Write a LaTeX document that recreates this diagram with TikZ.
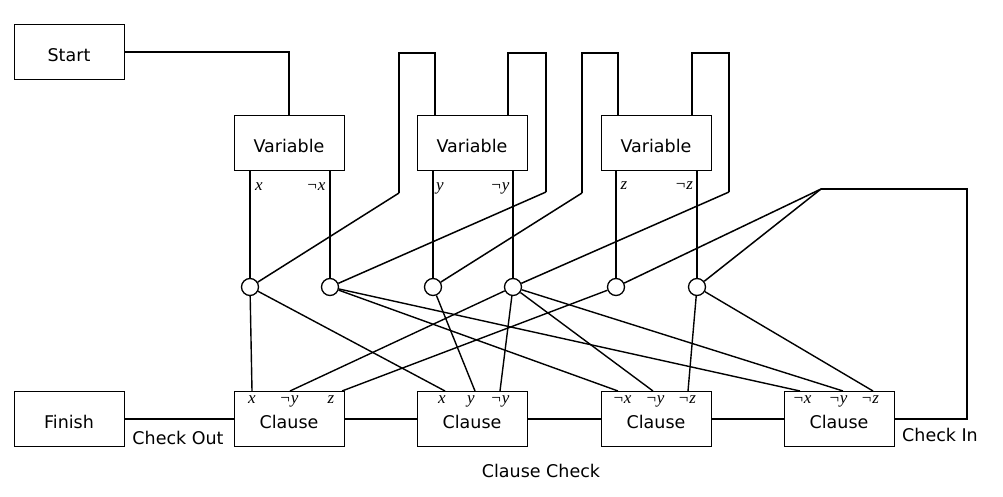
\documentclass[tikz,border=0pt]{standalone}
\usepackage{fontspec}
\setmainfont{DejaVu Sans}
\newfontfamily\litfont{Liberation Serif}
\begin{document}
\begin{tikzpicture}[x=1pt,y=-1pt,
 box/.style={draw,line width=1pt,minimum width=110pt,minimum height=55pt,inner sep=0pt,text height=19pt,text depth=0pt,font=\fontsize{17.5}{21}\selectfont},
 lit/.style={circle,draw,line width=1.3pt,minimum size=17pt,inner sep=0pt,fill=white},
 wire/.style={line width=2pt},
 diag/.style={line width=1.5pt},
 low/.style={line width=1.4pt},
 lab/.style={inner sep=0pt,font=\litfont\itshape\fontsize{17}{20}\selectfont},
 txt/.style={inner sep=0pt,font=\fontsize{17.5}{21}\selectfont}]
\useasboundingbox (0,0) rectangle (1003,497);
% boxes
\node[box] (start) at (69,52) {Start};
\node[box] (finish) at (69,418.5) {Finish};
\node[box] (v1) at (289,143.5) {Variable};
\node[box] (v2) at (472,143.5) {Variable};
\node[box] (v3) at (656,143.5) {Variable};
\node[box] (c1) at (289,418.5) {Clause};
\node[box] (c2) at (472,418.5) {Clause};
\node[box] (c3) at (656,418.5) {Clause};
\node[box] (c4) at (839,418.5) {Clause};
% literal circles
\node[lit] (cx) at (250,287) {};
\node[lit] (cnx) at (330,287) {};
\node[lit] (cy) at (433,287) {};
\node[lit] (cny) at (513,287) {};
\node[lit] (cz) at (616,287) {};
\node[lit] (cnz) at (697,287) {};
% coordinates
\coordinate (t2a) at (435,53); \coordinate (k2a) at (399,193);
\coordinate (t2b) at (507.5,53); \coordinate (k2b) at (546,192);
\coordinate (t3a) at (618,53); \coordinate (k3a) at (582,193);
\coordinate (t3b) at (692,53); \coordinate (k3b) at (729,192);
\coordinate (ci) at (821,189); \coordinate (cr) at (967,189);
\coordinate (c1x) at (252,391); \coordinate (c1ny) at (290,391); \coordinate (c1z) at (342,391);
\coordinate (c2x) at (445,391); \coordinate (c2y) at (475,391); \coordinate (c2ny) at (500,391);
\coordinate (c3nx) at (618,391); \coordinate (c3ny) at (653,391); \coordinate (c3nz) at (688,391);
\coordinate (c4nx) at (800,391); \coordinate (c4ny) at (843,391); \coordinate (c4nz) at (873,391);
% start
\draw[wire] (start.east) -| (v1.north);
% verticals
\draw[wire] (v1.south -| cx) -- (cx);
\draw[wire] (v1.south -| cnx) -- (cnx);
\draw[wire] (v2.south -| cy) -- (cy);
\draw[wire] (v2.south -| cny) -- (cny);
\draw[wire] (v3.south -| cz) -- (cz);
\draw[wire] (v3.south -| cnz) -- (cnz);
% loops
\draw[wire] (v2.north -| t2a) -- (t2a) -| (k2a);
\draw[diag] (k2a) -- (cx);
\draw[wire] (v2.north -| t2b) -- (t2b) -| (k2b);
\draw[diag] (k2b) -- (cnx);
\draw[wire] (v3.north -| t3a) -- (t3a) -| (k3a);
\draw[diag] (k3a) -- (cy);
\draw[wire] (v3.north -| t3b) -- (t3b) -| (k3b);
\draw[diag] (k3b) -- (cny);
% check in
\draw[wire] (c4.east) -| (cr) -- (ci);
\draw[diag] (ci) -- (cz);
\draw[diag] (ci) -- (cnz);
% chain
\draw[wire] (finish) -- (c1);
\draw[wire] (c1) -- (c2);
\draw[wire] (c2) -- (c3);
\draw[wire] (c3) -- (c4);
% to clauses
\draw[low] (cx) -- (c1x);
\draw[low] (cx) -- (c2x);
\draw[low] (cnx) -- (c3nx);
\draw[low] (cnx) -- (c4nx);
\draw[low] (cy) -- (c2y);
\draw[low] (cny) -- (c1ny);
\draw[low] (cny) -- (c2ny);
\draw[low] (cny) -- (c3ny);
\draw[low] (cny) -- (c4ny);
\draw[low] (cz) -- (c1z);
\draw[low] (cnz) -- (c3nz);
\draw[low] (cnz) -- (c4nz);
% variable labels
\node[lab] (lx) at (259,187) {x};
\node[lab] (lnx) at (316,187) {¬x};
\node[lab] (ly) at (440,188) {y};
\node[lab] (lny) at (500,188) {¬y};
\node[lab] (lz) at (624,186) {z};
\node[lab] (lnz) at (684,186) {¬z};
% clause labels
\node[lab] (a1) at (252,400) {x};
\node[lab] (a2) at (289,401) {¬y};
\node[lab] (a3) at (331,400) {z};
\node[lab] (b1) at (442,400) {x};
\node[lab] (b2) at (471,401) {y};
\node[lab] (b3) at (500,401) {¬y};
\node[lab] (d1) at (622,400) {¬x};
\node[lab] (d2) at (655,401) {¬y};
\node[lab] (d3) at (687,400) {¬z};
\node[lab] (e1) at (802,400) {¬x};
\node[lab] (e2) at (838,401) {¬y};
\node[lab] (e3) at (870,400) {¬z};
% texts
\node[txt] (tout) at (178,438) {Check Out};
\node[txt] (tin) at (940,435) {Check In};
\node[txt] (tcc) at (541,471) {Clause Check};
\end{tikzpicture}
\end{document}
